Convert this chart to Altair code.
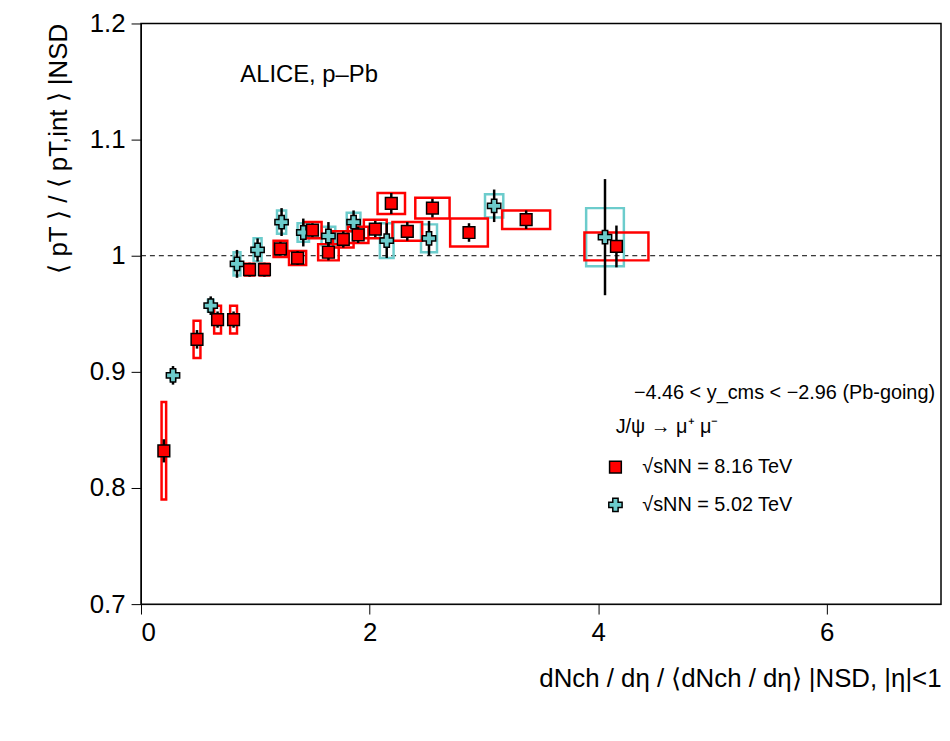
import altair as alt
import pandas as pd

# 8.16 TeV
r_x = [0.20, 0.49, 0.67, 0.81, 0.95, 1.08, 1.22, 1.37, 1.50, 1.64, 1.77, 1.90, 2.05, 2.19, 2.33, 2.55, 2.87, 3.37, 4.16]
r_y = [0.832, 0.928, 0.945, 0.945, 0.988, 0.988, 1.006, 0.998, 1.022, 1.003, 1.014, 1.018, 1.023, 1.045, 1.021, 1.041, 1.020, 1.031, 1.008]
r_stat = [0.010, 0.008, 0.007, 0.007, 0.006, 0.006, 0.006, 0.006, 0.006, 0.007, 0.007, 0.007, 0.007, 0.009, 0.008, 0.008, 0.008, 0.008, 0.018]
r_bx = [0.02, 0.03, 0.03, 0.03, 0.04, 0.04, 0.06, 0.075, 0.08, 0.09, 0.09, 0.09, 0.10, 0.12, 0.13, 0.15, 0.165, 0.21, 0.28]
r_by = [0.042, 0.016, 0.012, 0.012, 0.005, 0.005, 0.007, 0.006, 0.007, 0.007, 0.007, 0.007, 0.008, 0.009, 0.008, 0.009, 0.012, 0.008, 0.012]

# 5.02 TeV
c_x = [0.28, 0.61, 0.84, 1.02, 1.23, 1.42, 1.64, 1.86, 2.15, 2.52, 3.09, 4.06]
c_y = [0.897, 0.957, 0.993, 1.005, 1.029, 1.020, 1.017, 1.029, 1.013, 1.015, 1.043, 1.016]
c_stat = [0.008, 0.008, 0.012, 0.010, 0.012, 0.012, 0.012, 0.010, 0.015, 0.015, 0.014, 0.050]
c_bx = [0.02, 0.025, 0.03, 0.035, 0.04, 0.05, 0.06, 0.06, 0.06, 0.07, 0.08, 0.165]
c_by = [0.004, 0.005, 0.010, 0.010, 0.010, 0.008, 0.008, 0.008, 0.015, 0.012, 0.010, 0.025]

def frame(x, y, s, bx, by):
    return pd.DataFrame({
        'x': x, 'y': y, 'lo': [a - b for a, b in zip(y, s)], 'hi': [a + b for a, b in zip(y, s)],
        'x1': [a - b for a, b in zip(x, bx)], 'x2': [a + b for a, b in zip(x, bx)],
        'y1': [a - b for a, b in zip(y, by)], 'y2': [a + b for a, b in zip(y, by)],
    })

red = frame(r_x, r_y, r_stat, r_bx, r_by)
cyan = frame(c_x, c_y, c_stat, c_bx, c_by)

xs = alt.Scale(domain=[0, 7], nice=False)
ys = alt.Scale(domain=[0.7, 1.2], nice=False)
X = alt.X('x:Q', scale=xs, title='dNch / dη  /  ⟨dNch / dη⟩   |NSD, |η|<1',
          axis=alt.Axis(values=[0, 2, 4, 6], format='d'))
Y = alt.Y('y:Q', scale=ys, title='⟨ pT ⟩ / ⟨ pT,int ⟩  |NSD',
          axis=alt.Axis(values=[0.7, 0.8, 0.9, 1.0, 1.1, 1.2], labelExpr="datum.value == 1 ? '1' : format(datum.value, '.1f')"))

def boxes(df, color):
    return alt.Chart(df).mark_rect(fillOpacity=0, stroke=color, strokeWidth=2.5).encode(
        x=alt.X('x1:Q', scale=xs), x2='x2', y=alt.Y('y1:Q', scale=ys), y2='y2')

def bars(df):
    return alt.Chart(df).mark_rule(color='black', strokeWidth=2.5).encode(
        x=alt.X('x:Q', scale=xs), y=alt.Y('lo:Q', scale=ys), y2='hi')

unity = alt.Chart(pd.DataFrame({'y': [1.0]})).mark_rule(color='black', strokeDash=[5, 4], strokeWidth=1).encode(
    y=alt.Y('y:Q', scale=ys))

red_pts = alt.Chart(red).mark_square(size=140, color='red', stroke='black', strokeWidth=1.5, opacity=1).encode(x=X, y=Y)
cyan_pts = alt.Chart(cyan).mark_point(shape='cross', size=180, filled=True, fill='#6ccccc', stroke='black',
                                       strokeWidth=1.5, opacity=1).encode(x=X, y=Y)

txt = alt.Chart(pd.DataFrame({
    't': ['ALICE, p–Pb', '−4.46 < y_cms < −2.96 (Pb-going)', 'J/ψ → μ⁺ μ⁻', '√sNN = 8.16 TeV', '√sNN = 5.02 TeV'],
    'px': [100, 800, 530, 505, 505], 'py': [52, 372, 407, 447, 485], 's': [24, 20, 20, 20, 20],
    'a': ['left', 'right', 'center', 'left', 'left'],
}))
texts = [
    txt.transform_filter(f"datum.a == '{a}'").mark_text(align=a, baseline='middle', font='Liberation Sans').encode(
        x=alt.X('px:Q', scale=None), y=alt.Y('py:Q', scale=None), text='t:N',
        size=alt.Size('s:Q', legend=None, scale=None))
    for a in ['left', 'right', 'center']
]

leg_r = alt.Chart(pd.DataFrame({'v': [1]})).mark_square(size=140, color='red', stroke='black', strokeWidth=1.5, opacity=1).encode(
    x=alt.value(478), y=alt.value(447))
leg_c = alt.Chart(pd.DataFrame({'v': [1]})).mark_point(shape='cross', size=180, filled=True, fill='#6ccccc', stroke='black',
                                                        strokeWidth=1.5, opacity=1).encode(x=alt.value(478), y=alt.value(485))

chart = alt.layer(unity, boxes(cyan, '#6ccccc'), boxes(red, 'red'), bars(cyan), bars(red), cyan_pts, red_pts,
                  leg_r, leg_c, *texts).properties(
    width=806, height=585, padding={'left': 37, 'top': 0, 'right': 0, 'bottom': 5}
).configure_axis(
    labelFont='Liberation Sans', titleFont='Liberation Sans', labelFontSize=26, titleFontSize=26,
    titleFontWeight='normal', labelColor='black', titleColor='black', domainColor='black', tickColor='black',
    grid=False, tickSize=10, labelPadding=6,
).configure_axisX(titleAlign='right', titleAnchor='end', titlePadding=20).configure_axisY(
    titleAnchor='end', titleAlign='right', titlePadding=18
).configure_view(stroke='black', strokeWidth=1.5)

chart.save("out.html", embed_options={"renderer": "svg", "actions": False})
